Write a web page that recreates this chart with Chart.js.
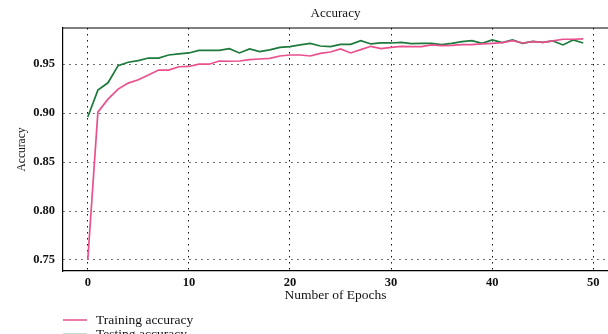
<!DOCTYPE html>
<html>
<head>
<meta charset="utf-8">
<script src="https://cdn.jsdelivr.net/npm/chart.js@4"></script>
<style>
  html, body { margin: 0; padding: 0; background: #fff; }
  #wrap { width: 608px; height: 334px; position: relative; }
</style>
</head>
<body>
<div id="wrap"><canvas id="acc"></canvas></div>
<script>
// epochs on the x axis
const epochs = [0, 1, 2, 3, 4, 5, 6, 7, 8, 9, 10, 11, 12, 13, 14, 15, 16, 17, 18, 19,
  20, 21, 22, 23, 24, 25, 26, 27, 28, 29, 30, 31, 32, 33, 34, 35, 36, 37, 38, 39,
  40, 41, 42, 43, 44, 45, 46, 47, 48, 49];

const trainAcc = [0.750, 0.901, 0.9143, 0.9246, 0.9307, 0.9341, 0.9389, 0.944, 0.944, 0.9474,
  0.9477, 0.950, 0.950, 0.9533, 0.953, 0.9533, 0.9546, 0.9553, 0.956, 0.9584,
  0.9594, 0.9594, 0.9584, 0.9611, 0.9625, 0.9656, 0.9615, 0.9649, 0.9683, 0.9659,
  0.9672, 0.9683, 0.9679, 0.9679, 0.9697, 0.969, 0.9693, 0.970, 0.970, 0.9707,
  0.9713, 0.972, 0.9741, 0.9717, 0.9731, 0.9724, 0.9738, 0.9755, 0.9755, 0.9758];

const testAcc = [0.896, 0.9235, 0.931, 0.9485, 0.952, 0.9536, 0.9563, 0.9563, 0.9594, 0.9605,
  0.9615, 0.9642, 0.9642, 0.9642, 0.9659, 0.9615, 0.9656, 0.9628, 0.9646, 0.9672,
  0.9679, 0.9697, 0.9713, 0.9686, 0.9679, 0.9703, 0.9703, 0.9741, 0.9707, 0.9717,
  0.9717, 0.9724, 0.971, 0.9713, 0.9713, 0.970, 0.9713, 0.9731, 0.9741, 0.9713,
  0.9748, 0.972, 0.9748, 0.9713, 0.9734, 0.9724, 0.9738, 0.9697, 0.9748, 0.9717];

const xTicks = [0, 10, 20, 30, 40, 50];
const yTicks = [0.75, 0.80, 0.85, 0.90, 0.95];

const seriesNames = ['Training accuracy', 'Testing accuracy'];
const seriesColors = ['#e8508e', '#1d7a3c'];

const SERIF = "'Liberation Serif', 'DejaVu Serif', serif";

// title, top frame line and the stacked legend under the axis
const decorPlugin = {
  id: 'decor',
  afterDraw(chart) {
    const { ctx, chartArea } = chart;
    ctx.save();

    // top frame line
    ctx.strokeStyle = '#000';
    ctx.lineWidth = 1.2;
    ctx.beginPath();
    ctx.moveTo(chartArea.left, chartArea.top);
    ctx.lineTo(chartArea.right, chartArea.top);
    ctx.stroke();

    // title, centred on the plot area
    ctx.fillStyle = '#111';
    ctx.font = '13px ' + SERIF;
    ctx.textAlign = 'center';
    ctx.textBaseline = 'middle';
    ctx.fillText('Accuracy', (chartArea.left + chartArea.right) / 2, 14);

    // legend
    ctx.textAlign = 'left';
    ctx.font = '13.5px ' + SERIF;
    const rows = [320, 334.5];
    seriesNames.forEach((name, i) => {
      const y = rows[i];
      ctx.strokeStyle = seriesColors[i];
      ctx.lineWidth = 1.5;
      ctx.beginPath();
      ctx.moveTo(63, y);
      ctx.lineTo(87, y);
      ctx.stroke();
      ctx.fillStyle = '#111';
      ctx.fillText(name, 96, y);
    });
    ctx.restore();
  }
};

const ctx = document.getElementById('acc').getContext('2d');

new Chart(ctx, {
  type: 'line',
  data: {
    datasets: [
      {
        label: seriesNames[0],
        data: epochs.map((e, i) => ({ x: e, y: trainAcc[i] })),
        borderColor: seriesColors[0],
        borderWidth: 1.7,
        pointRadius: 0,
        tension: 0
      },
      {
        label: seriesNames[1],
        data: epochs.map((e, i) => ({ x: e, y: testAcc[i] })),
        borderColor: seriesColors[1],
        borderWidth: 1.7,
        pointRadius: 0,
        tension: 0
      }
    ]
  },
  options: {
    responsive: true,
    maintainAspectRatio: false,
    animation: false,
    layout: {
      padding: { top: 28, left: 0, right: 0, bottom: 27 }
    },
    plugins: {
      legend: { display: false },
      title: { display: false },
      tooltip: { enabled: false }
    },
    scales: {
      x: {
        type: 'linear',
        min: -2.45,
        max: 51.45,
        afterBuildTicks: (scale) => { scale.ticks = xTicks.map(v => ({ value: v })); },
        afterFit: (scale) => { scale.height = 36; },
        grid: { color: '#111', lineWidth: 1, drawTicks: false },
        border: { display: true, color: '#000', width: 1.2, dash: [1.5, 4.5] },
        ticks: {
          padding: 4,
          color: '#111',
          font: { family: SERIF, size: 12.5, weight: 'bold' },
          callback: (v) => String(v)
        },
        title: {
          display: true,
          text: 'Number of Epochs',
          color: '#111',
          font: { family: SERIF, size: 13.5 },
          padding: { top: 0, bottom: 3 }
        }
      },
      y: {
        min: 0.7387,
        max: 0.987,
        afterBuildTicks: (scale) => { scale.ticks = yTicks.map(v => ({ value: v })); },
        afterFit: (scale) => { scale.width = 63; },
        grid: { color: '#444', lineWidth: 1, drawTicks: false },
        border: { display: true, color: '#000', width: 1.2, dash: [1.5, 4.5] },
        ticks: {
          padding: 8,
          color: '#111',
          font: { family: SERIF, size: 12.5, weight: 'bold' },
          callback: (v) => v.toFixed(2)
        },
        title: {
          display: true,
          text: 'Accuracy',
          color: '#111',
          font: { family: SERIF, size: 11.5 },
          padding: { top: 15, bottom: 0 }
        }
      }
    }
  },
  plugins: [decorPlugin]
});
</script>
</body>
</html>
